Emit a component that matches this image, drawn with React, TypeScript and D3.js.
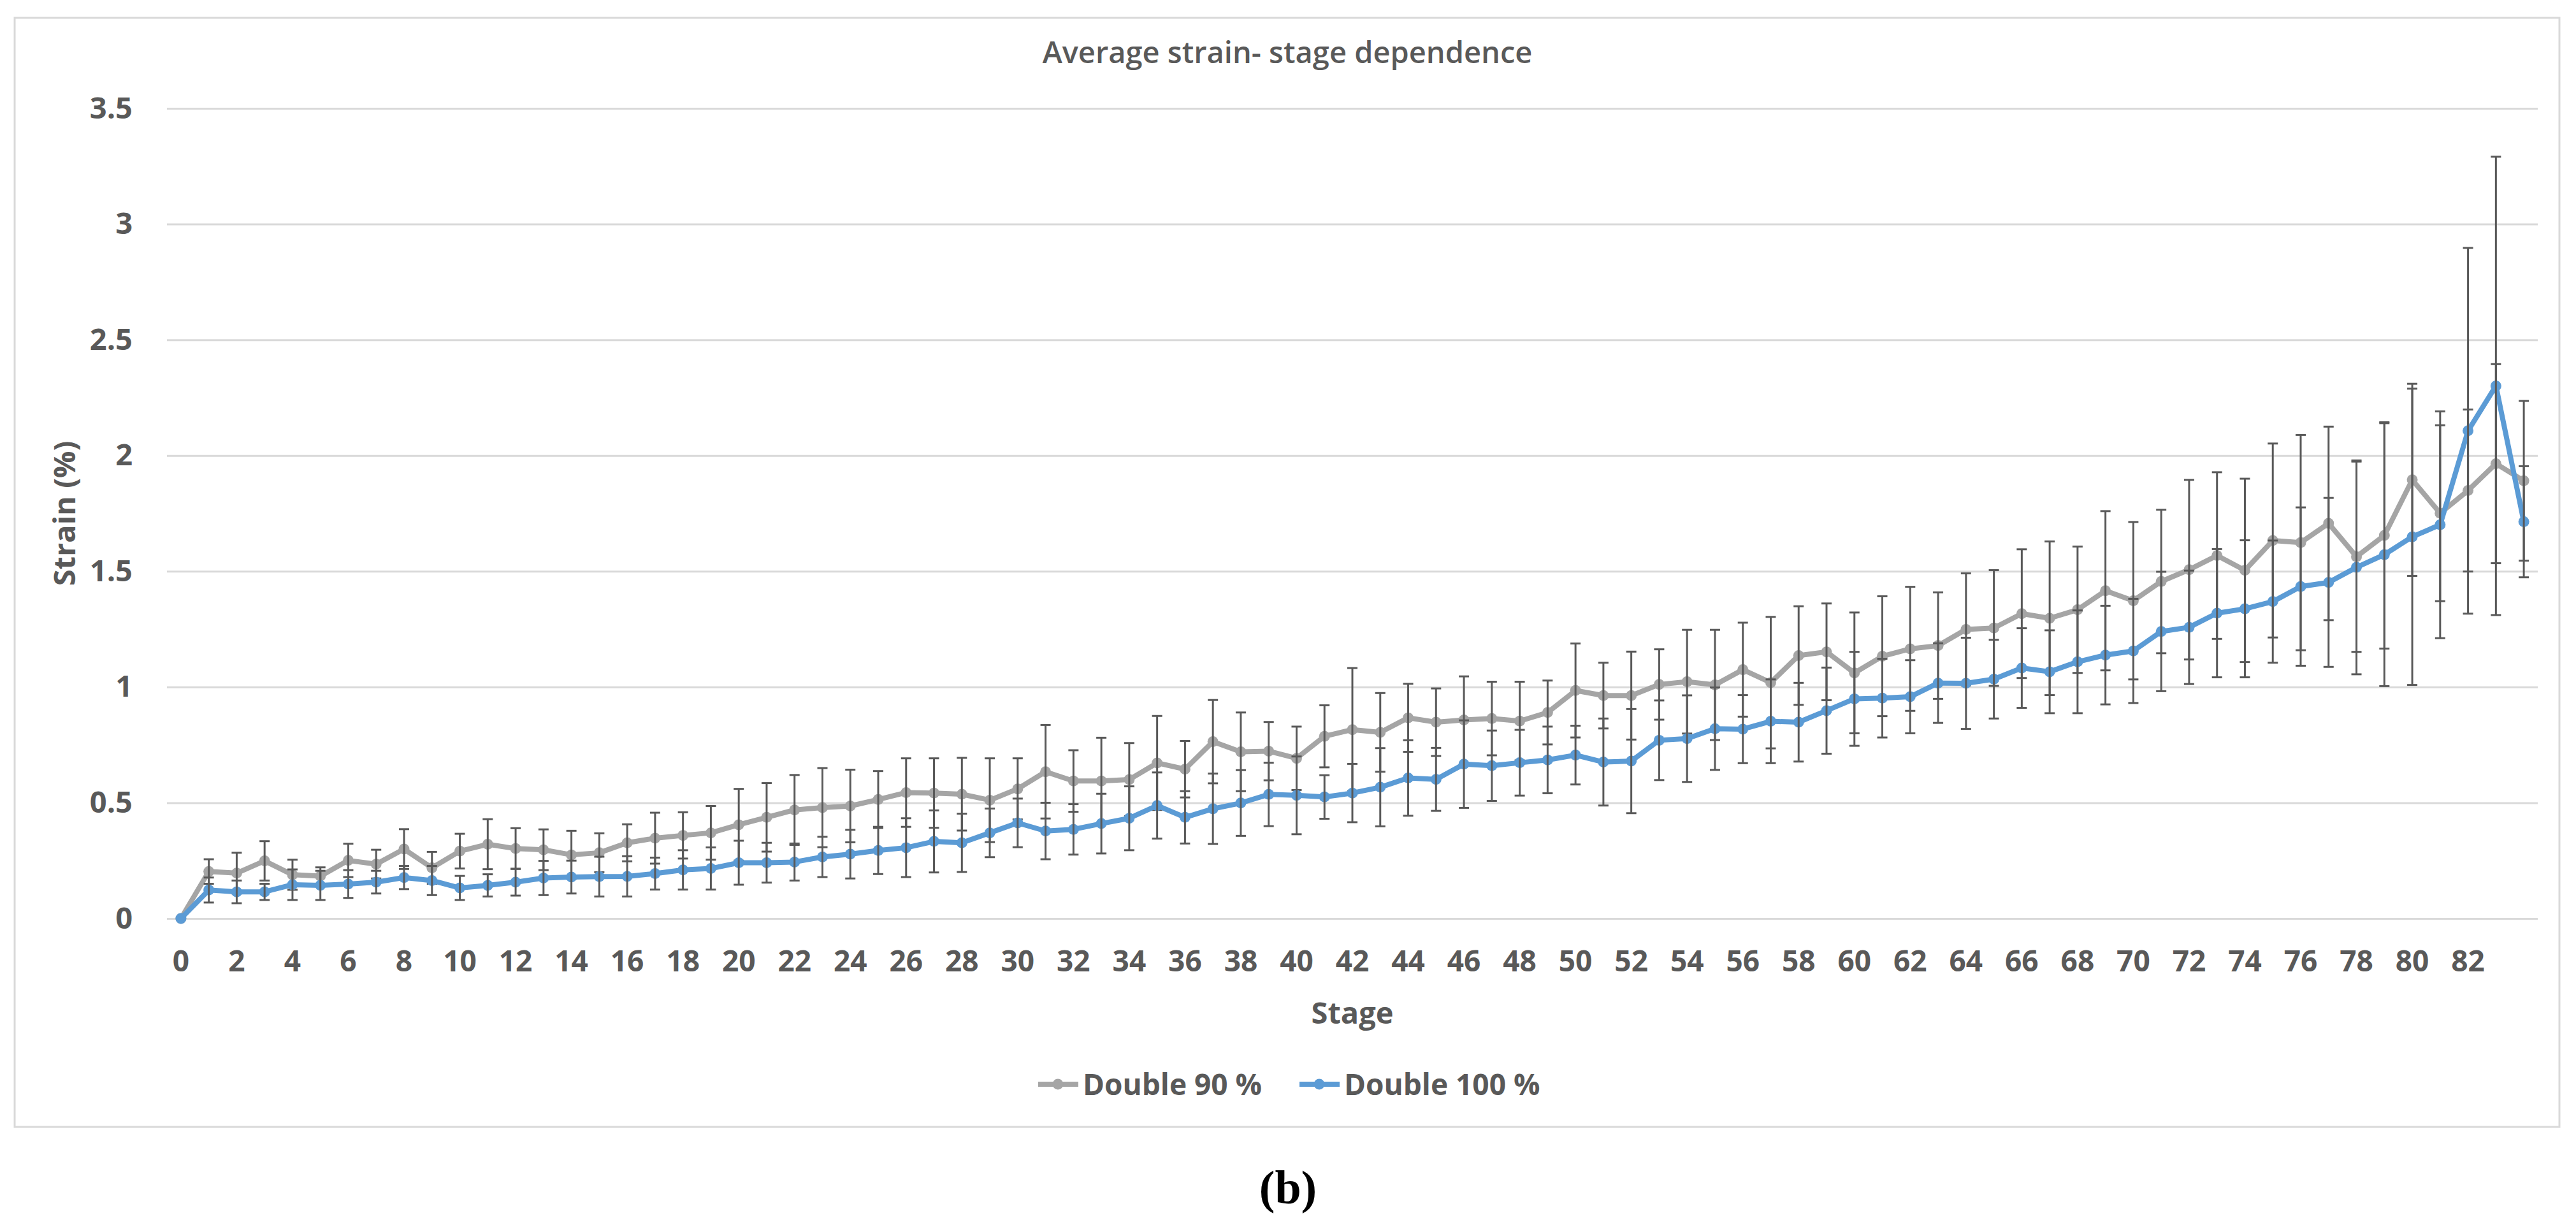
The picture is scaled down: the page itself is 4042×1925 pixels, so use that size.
import { useEffect, useRef } from "react"
import * as d3 from "d3"

const stages = d3.range(0, 85)

const double90 = [
  0, 0.203, 0.196, 0.249, 0.189, 0.183, 0.251, 0.235, 0.3, 0.219, 0.291, 0.321, 0.302, 0.297, 0.275,
  0.284, 0.327, 0.347, 0.359, 0.37, 0.405, 0.437, 0.469, 0.479, 0.486, 0.514, 0.544, 0.542, 0.537,
  0.511, 0.56, 0.634, 0.594, 0.594, 0.6, 0.672, 0.645, 0.764, 0.72, 0.723, 0.692, 0.787, 0.816, 0.804,
  0.867, 0.848, 0.858, 0.864, 0.853, 0.89, 0.985, 0.963, 0.963, 1.011, 1.023, 1.009, 1.075, 1.019,
  1.136, 1.152, 1.061, 1.133, 1.165, 1.179, 1.249, 1.255, 1.317, 1.297, 1.334, 1.416, 1.373, 1.456,
  1.507, 1.568, 1.504, 1.633, 1.624, 1.707, 1.563, 1.655, 1.895, 1.751, 1.849, 1.965, 1.891,
]

const double90Err = [
  0, 0.053, 0.088, 0.085, 0.065, 0.038, 0.072, 0.062, 0.086, 0.069, 0.075, 0.108, 0.088, 0.088, 0.104,
  0.084, 0.08, 0.11, 0.1, 0.116, 0.155, 0.148, 0.151, 0.171, 0.157, 0.123, 0.148, 0.15, 0.157, 0.181,
  0.132, 0.202, 0.133, 0.187, 0.158, 0.203, 0.122, 0.18, 0.17, 0.126, 0.137, 0.134, 0.266, 0.17, 0.147,
  0.146, 0.188, 0.159, 0.17, 0.138, 0.203, 0.142, 0.19, 0.152, 0.224, 0.238, 0.203, 0.284, 0.213,
  0.209, 0.261, 0.259, 0.268, 0.23, 0.242, 0.25, 0.278, 0.332, 0.273, 0.344, 0.34, 0.31, 0.388, 0.36,
  0.396, 0.419, 0.465, 0.418, 0.411, 0.489, 0.415, 0.38, 0.35, 0.43, 0.345,
]

const double100 = [
  0, 0.123, 0.115, 0.115, 0.146, 0.143, 0.149, 0.157, 0.177, 0.164, 0.132, 0.143, 0.157, 0.175, 0.179,
  0.181, 0.182, 0.194, 0.21, 0.216, 0.241, 0.241, 0.244, 0.266, 0.278, 0.294, 0.306, 0.333, 0.327,
  0.37, 0.413, 0.378, 0.385, 0.41, 0.433, 0.488, 0.437, 0.474, 0.499, 0.536, 0.532, 0.525, 0.542,
  0.567, 0.607, 0.601, 0.667, 0.66, 0.673, 0.685, 0.706, 0.676, 0.68, 0.77, 0.777, 0.82, 0.818, 0.852,
  0.848, 0.898, 0.949, 0.952, 0.958, 1.017, 1.016, 1.034, 1.082, 1.066, 1.109, 1.138, 1.156, 1.24,
  1.258, 1.319, 1.338, 1.369, 1.434, 1.452, 1.517, 1.572, 1.649, 1.701, 2.107, 2.301, 1.714,
]

const double100Err = [
  0, 0.054, 0.049, 0.035, 0.066, 0.063, 0.06, 0.049, 0.05, 0.063, 0.052, 0.048, 0.058, 0.074, 0.071,
  0.086, 0.087, 0.069, 0.085, 0.091, 0.095, 0.086, 0.08, 0.087, 0.105, 0.102, 0.127, 0.134, 0.126,
  0.105, 0.105, 0.122, 0.109, 0.129, 0.138, 0.143, 0.113, 0.152, 0.142, 0.137, 0.168, 0.094, 0.126,
  0.169, 0.163, 0.136, 0.189, 0.152, 0.142, 0.144, 0.127, 0.188, 0.225, 0.172, 0.187, 0.178, 0.147,
  0.181, 0.17, 0.186, 0.203, 0.17, 0.158, 0.172, 0.197, 0.17, 0.172, 0.179, 0.222, 0.213, 0.225,
  0.258, 0.245, 0.277, 0.296, 0.264, 0.342, 0.365, 0.462, 0.568, 0.64, 0.49, 0.79, 0.99, 0.24,
]

const yTicks = [0, 0.5, 1, 1.5, 2, 2.5, 3, 3.5]
const xTickLabels = stages.filter((s) => s % 2 === 0 && s <= 82)

const series = [
  { name: "Double 90 %", values: double90, err: double90Err, color: "#a5a5a5" },
  { name: "Double 100 %", values: double100, err: double100Err, color: "#5b9bd5" },
]

const W = 4042
const H = 1925
const FONT = "'Open Sans', sans-serif"
const TEXT = "#595959"

export default function App() {
  const svgRef = useRef<SVGSVGElement>(null)

  useEffect(() => {
    if (!svgRef.current) return
    const root = d3.select(svgRef.current)
    root.selectAll("*").remove()

    const plot = { left: 262, right: 3982, top: 170, bottom: 1441 }

    const x = d3
      .scaleBand<number>()
      .domain(stages)
      .range([plot.left, plot.right])
      .paddingInner(0)
      .paddingOuter(0)
    const cx = (s: number) => x(s)! + x.bandwidth() / 2
    const y = d3.scaleLinear().domain([0, 3.5]).range([plot.bottom, plot.top])

    // chart border
    root
      .append("rect")
      .attr("x", 23)
      .attr("y", 28)
      .attr("width", 3993)
      .attr("height", 1740)
      .attr("fill", "#fff")
      .attr("stroke", "#d9d9d9")
      .attr("stroke-width", 3)

    // title
    root
      .append("text")
      .attr("x", 2020)
      .attr("y", 99)
      .attr("text-anchor", "middle")
      .attr("font-family", FONT)
      .attr("font-weight", 600)
      .attr("font-size", 47)
      .attr("fill", TEXT)
      .text("Average strain- stage dependence")

    // y grid + labels
    const yAxis = d3
      .axisLeft(y)
      .tickValues(yTicks)
      .tickSize(-(plot.right - plot.left))
      .tickPadding(54)
      .tickFormat((d) => String(d))
    const gy = root.append("g").attr("transform", `translate(${plot.left},0)`).call(yAxis)
    gy.select(".domain").remove()
    gy.selectAll(".tick line").attr("stroke", "#d9d9d9").attr("stroke-width", 3)
    gy.selectAll(".tick text")
      .attr("font-family", FONT)
      .attr("font-weight", 700)
      .attr("font-size", 47)
      .attr("fill", TEXT)

    // x labels
    const xAxis = d3
      .axisBottom(x)
      .tickValues(xTickLabels)
      .tickSize(0)
      .tickPadding(50)
    const gx = root.append("g").attr("transform", `translate(0,${plot.bottom})`).call(xAxis)
    gx.select(".domain").remove()
    gx.selectAll(".tick text")
      .attr("font-family", FONT)
      .attr("font-weight", 700)
      .attr("font-size", 46)
      .attr("fill", TEXT)

    // axis titles
    root
      .append("text")
      .attr("x", (plot.left + plot.right) / 2)
      .attr("y", 1606)
      .attr("text-anchor", "middle")
      .attr("font-family", FONT)
      .attr("font-weight", 700)
      .attr("font-size", 47)
      .attr("fill", TEXT)
      .text("Stage")

    root
      .append("text")
      .attr("transform", `translate(118,${(plot.top + plot.bottom) / 2}) rotate(-90)`)
      .attr("text-anchor", "middle")
      .attr("font-family", FONT)
      .attr("font-weight", 700)
      .attr("font-size", 47)
      .attr("fill", TEXT)
      .text("Strain (%)")

    const line = d3
      .line<number>()
      .x((_, i) => cx(stages[i]))
      .y((d) => y(d))

    series.forEach((s) => {
      const g = root.append("g")
      g.append("path")
        .datum(s.values)
        .attr("fill", "none")
        .attr("stroke", s.color)
        .attr("stroke-width", 8)
        .attr("stroke-linejoin", "round")
        .attr("d", line)

      g.selectAll("circle")
        .data(s.values)
        .enter()
        .append("circle")
        .attr("cx", (_, i) => cx(stages[i]))
        .attr("cy", (d) => y(d))
        .attr("r", 8.5)
        .attr("fill", s.color)

      // error bars
      const eb = g
        .selectAll("g.eb")
        .data(s.values.map((v, i) => ({ s: stages[i], v, e: s.err[i] })).filter((d) => d.e > 0))
        .enter()
        .append("g")
        .attr("stroke", "#595959")
        .attr("stroke-width", 3)
      eb.append("line")
        .attr("x1", (d) => cx(d.s))
        .attr("x2", (d) => cx(d.s))
        .attr("y1", (d) => y(d.v - d.e))
        .attr("y2", (d) => y(d.v + d.e))
      eb.append("line")
        .attr("x1", (d) => cx(d.s) - 8)
        .attr("x2", (d) => cx(d.s) + 8)
        .attr("y1", (d) => y(d.v + d.e))
        .attr("y2", (d) => y(d.v + d.e))
      eb.append("line")
        .attr("x1", (d) => cx(d.s) - 8)
        .attr("x2", (d) => cx(d.s) + 8)
        .attr("y1", (d) => y(d.v - d.e))
        .attr("y2", (d) => y(d.v - d.e))
    })

    // legend
    const legendX = [1629, 2039]
    series.forEach((s, i) => {
      const g = root.append("g").attr("transform", `translate(${legendX[i]},1701)`)
      g.append("line").attr("x1", 0).attr("x2", 63).attr("stroke", s.color).attr("stroke-width", 8)
      g.append("circle").attr("cx", 31).attr("r", 8.5).attr("fill", s.color)
      g.append("text")
        .attr("x", 70)
        .attr("y", 17)
        .attr("font-family", FONT)
        .attr("font-weight", 700)
        .attr("font-size", 46)
        .attr("fill", TEXT)
        .text(s.name)
    })

    // panel label
    root
      .append("text")
      .attr("x", 2021)
      .attr("y", 1888)
      .attr("text-anchor", "middle")
      .attr("font-family", "'Liberation Serif', serif")
      .attr("font-weight", 700)
      .attr("font-size", 74)
      .attr("fill", "#000")
      .text("(b)")
  }, [])

  return (
    <svg
      ref={svgRef}
      width={W}
      height={H}
      style={{ position: "absolute", left: 0, top: 0, background: "#fff" }}
    />
  )
}
